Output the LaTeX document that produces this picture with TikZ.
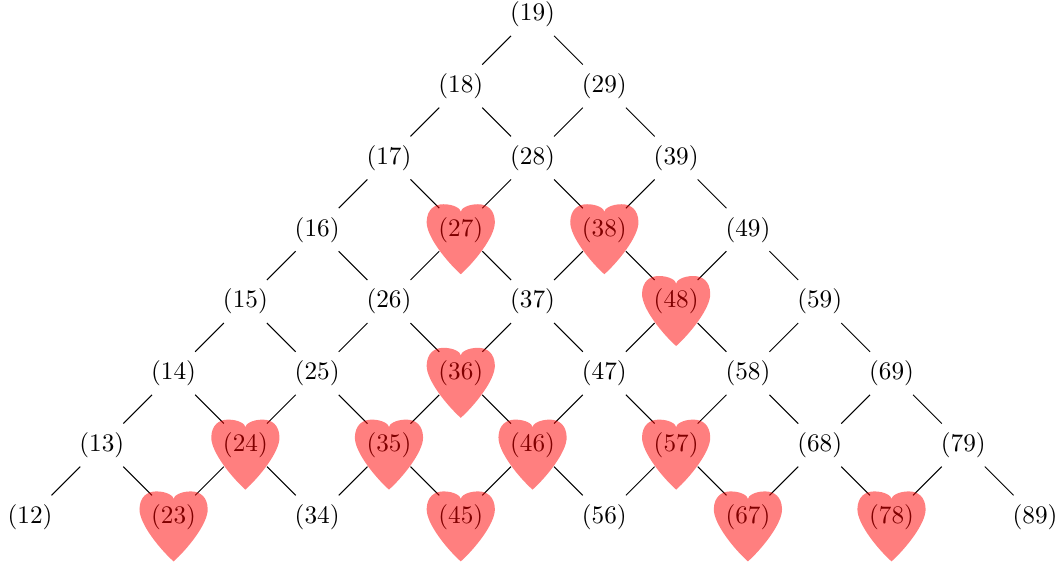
\documentclass[tikz,border=0pt]{standalone}
\tikzset{
  lbl/.style={inner sep=3.333pt},
  edge/.style={draw=black, line width=0.4pt},
  heart/.pic={
    \fill[red, fill opacity=0.5]
      (0,-0.62) .. controls (-0.18,-0.46) and (-0.48,-0.10) .. (-0.475,0.11)
      .. controls (-0.47,0.28) and (-0.37,0.355) .. (-0.24,0.355)
      .. controls (-0.09,0.355) and (0,0.29) .. (0,0.25)
      .. controls (0,0.29) and (0.09,0.355) .. (0.24,0.355)
      .. controls (0.37,0.355) and (0.47,0.28) .. (0.475,0.11)
      .. controls (0.48,-0.10) and (0.18,-0.46) .. (0,-0.62) -- cycle;
  }
}
\begin{document}
\begin{tikzpicture}
\useasboundingbox (-0.418,-0.642) rectangle (14.333,7.2);
\foreach \i in {1,...,8}{
  \pgfmathtruncatemacro\s{\i+1}
  \foreach \j in {\s,...,9}{
    \node[lbl] (n\i\j) at ({\i+\j-3},{\j-\i-1}) {(\i\j)};
  }
}
\foreach \i in {1,...,7}{
  \pgfmathtruncatemacro\s{\i+2}
  \pgfmathtruncatemacro\ip{\i+1}
  \foreach \j in {\s,...,9}{
    \pgfmathtruncatemacro\jm{\j-1}
    \draw[edge] (n\i\j) -- (n\i\jm);
    \draw[edge] (n\i\j) -- (n\ip\j);
  }
}
\foreach \h in {23,24,27,35,36,38,45,46,48,57,67,78}{
  \pic at (n\h) {heart};
}
\end{tikzpicture}
\end{document}
